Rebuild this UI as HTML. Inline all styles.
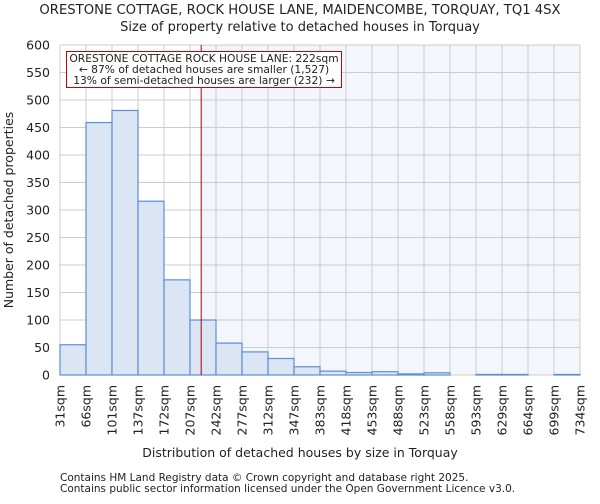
<!DOCTYPE html>
<html><head><meta charset="utf-8"><style>
body{margin:0;background:#fff;font-family:"DejaVu Sans","Liberation Sans",sans-serif;}
svg text{font-family:"DejaVu Sans","Liberation Sans",sans-serif;fill:#222;}
</style></head><body>
<svg id="c" width="600" height="500">
<text x="300" y="14" font-size="13.2" text-anchor="middle">ORESTONE COTTAGE, ROCK HOUSE LANE, MAIDENCOMBE, TORQUAY, TQ1 4SX</text>
<text x="300" y="31" font-size="13" text-anchor="middle">Size of property relative to detached houses in Torquay</text>
<g id="plot"></g>
<text x="300" y="457" font-size="12.5" text-anchor="middle">Distribution of detached houses by size in Torquay</text>
<text transform="translate(13,210) rotate(-90)" font-size="12.5" text-anchor="middle">Number of detached properties</text>
<text x="60" y="481" font-size="10.5">Contains HM Land Registry data © Crown copyright and database right 2025.</text>
<text x="60" y="492" font-size="10.5">Contains public sector information licensed under the Open Government Licence v3.0.</text>
</svg>
<script>
const binLabels=["31sqm","66sqm","101sqm","137sqm","172sqm","207sqm","242sqm","277sqm","312sqm","347sqm","383sqm","418sqm","453sqm","488sqm","523sqm","558sqm","593sqm","629sqm","664sqm","699sqm","734sqm"];
const counts=[55,459,481,316,173,100,58,42,30,15,7,4.5,6,2,4,0,1,1,0,1];
const yTicks=[0,50,100,150,200,250,300,350,400,450,500,550,600];
const propertyIndex=5.43;
const NS="http://www.w3.org/2000/svg";
const L=60,R=580,T=45,B=375,yMax=600;
const bw=(R-L)/counts.length;
const xs=i=>L+i*bw;
const ys=v=>B-(v/yMax)*(B-T);
const g=document.getElementById('plot');
function mk(t,a){const e=document.createElementNS(NS,t);for(const k in a)e.setAttribute(k,a[k]);g.appendChild(e);return e;}
const px=xs(propertyIndex);
let e=mk('rect',{x:px,y:T,width:R-px,height:B-T,fill:'#f3f6fd'});


yTicks.forEach(v=>{
 let l=mk('line',{x1:L,x2:R,y1:ys(v),y2:ys(v),stroke:'#cccccc','stroke-width':1});
 
 
 let t=mk('text',{x:L-10,y:ys(v)+4.5,'font-size':12.5,'text-anchor':'end'});
 t.textContent=v;
 
 
});
binLabels.forEach((s,i)=>{
 let l=mk('line',{x1:xs(i),x2:xs(i),y1:T,y2:B,stroke:'#cccccc','stroke-width':1});
 
 
 let t=mk('text',{transform:`translate(${xs(i)+4.5},${B+10}) rotate(-90)`,'font-size':12.5,'text-anchor':'end'});
 t.textContent=s;
 
 
});
counts.forEach((v,i)=>{
 let r=mk('rect',{x:xs(i),y:ys(v),width:bw,height:B-ys(v),fill:'#dbe5f4',stroke:'#5b8fd6','stroke-width':1.2});
 
 
});
e=mk('line',{x1:px,x2:px,y1:T,y2:B,stroke:'#aa0000','stroke-width':1});


e=mk('rect',{x:66.5,y:51.5,width:275,height:36,fill:'#fff',stroke:'#cc0000','stroke-width':1});


["ORESTONE COTTAGE ROCK HOUSE LANE: 222sqm","← 87% of detached houses are smaller (1,527)","13% of semi-detached houses are larger (232) →"].forEach((s,i)=>{
 let t=mk('text',{x:204,y:62+i*11,'font-size':10.7,'text-anchor':'middle'});
 t.textContent=s;
 
 
});
</script>
</body></html>
